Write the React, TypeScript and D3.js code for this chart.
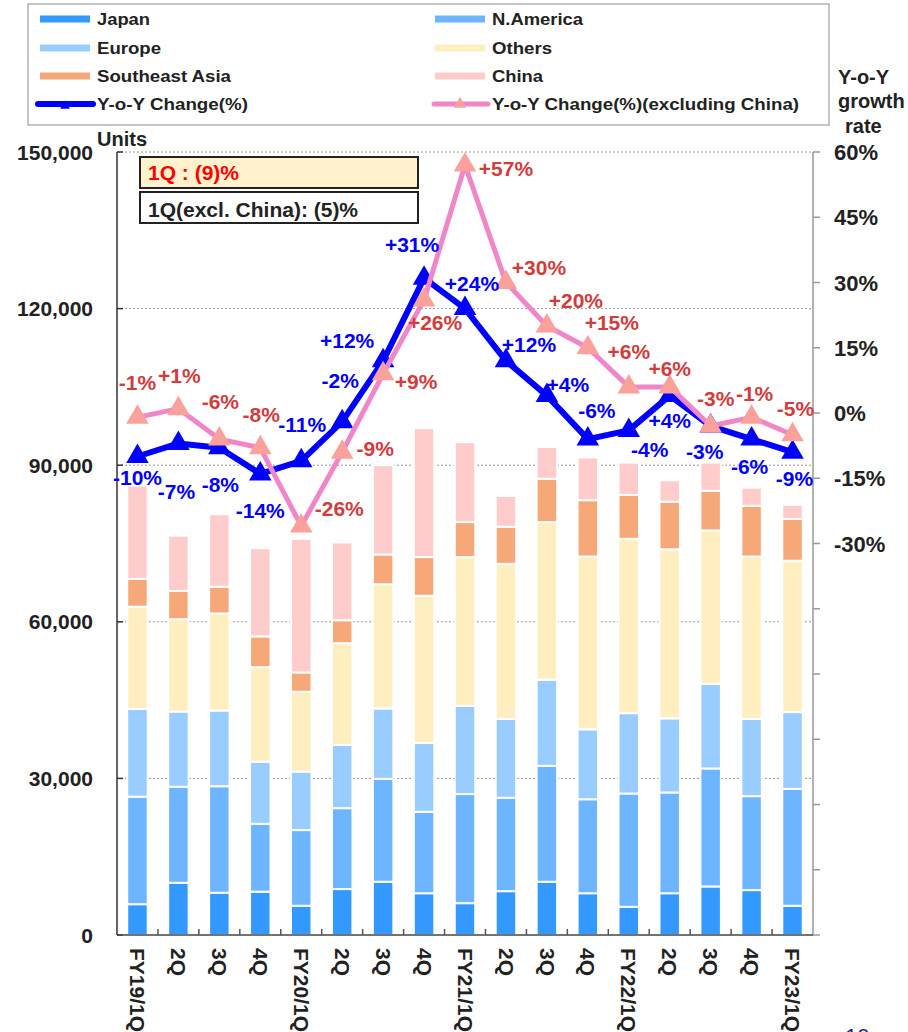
import React, { useEffect, useRef } from "react";
import * as d3 from "d3";

// quarters on the x axis
const periods = ["FY19/1Q", "2Q", "3Q", "4Q", "FY20/1Q", "2Q", "3Q", "4Q", "FY21/1Q", "2Q", "3Q", "4Q", "FY22/1Q", "2Q", "3Q", "4Q", "FY23/1Q"];

// units sold per region (stacked, bottom to top)
const japan = [5900, 10000, 8100, 8300, 5600, 8800, 10200, 8000, 6100, 8400, 10200, 8000, 5400, 8000, 9300, 8600, 5600];
const nAmerica = [20600, 18400, 20400, 13000, 14500, 15500, 19700, 15600, 20900, 17900, 22200, 18000, 21700, 19300, 22600, 18000, 22400];
const europe = [16800, 14400, 14500, 11900, 11200, 12100, 13500, 13200, 16900, 15100, 16500, 13400, 15400, 14200, 16200, 14800, 14700];
const others = [19600, 17700, 18600, 18100, 15300, 19500, 23800, 28200, 28500, 29700, 30200, 33100, 33400, 32400, 29400, 31100, 29000];
const seAsia = [5300, 5400, 5100, 5900, 3700, 4400, 5700, 7400, 6700, 7100, 8300, 10800, 8400, 9100, 7600, 9700, 8000];
const china = [17900, 10600, 13900, 16900, 25600, 14900, 17100, 24700, 15300, 5900, 6100, 8200, 6200, 4100, 5400, 3500, 2700];

// y-o-y growth (%)
const yoyChange = [-10, -7, -8, -14, -11, -2, 12, 31, 24, 12, 4, -6, -4, 4, -3, -6, -9];
const yoyExChina = [-1, 1, -6, -8, -26, -9, 9, 26, 57, 30, 20, 15, 6, 6, -3, -1, -5];

// axis ticks
const unitTicks = [0, 30000, 60000, 90000, 120000, 150000];
const rateTicks = [-120, -105, -90, -75, -60, -45, -30, -15, 0, 15, 30, 45, 60];
const rateTickLabels = [-30, -15, 0, 15, 30, 45, 60];

// where each % label sits relative to its point [dx, dy]
const yoyLabelPos = [[0, 21], [-2, 48], [1, 37], [0, 37], [1, -36], [-2, -41], [-36, -20], [-12, -34], [7, -25], [23, -16], [21, -11], [9, -29], [21, 19], [0, 25], [-6, 25], [-2, 27], [2, 26]];
const exChinaLabelPos = [[0, -35], [1, -33], [1, -38], [1, -33], [38, -18], [33, -4], [33, 8], [11, 23], [41, 3], [33, -15], [29, -26], [24, -25], [0, -35], [0, -18], [5, -28], [3, -24], [3, -26]];

const FONT = "'Liberation Sans', Arial, Helvetica, sans-serif";

export default function App() {
  const ref = useRef<SVGSVGElement>(null);

  useEffect(() => {
    const svg = d3.select(ref.current);
    svg.selectAll("*").remove();

    const left = 117, right = 813, top = 152, bottom = 935;

    const x = d3.scaleBand<number>().domain(d3.range(periods.length)).range([left, right]).paddingInner(0.5).paddingOuter(0.25);
    const y = d3.scaleLinear().domain([0, 150000]).range([bottom, top]);
    const yr = d3.scaleLinear().domain([-120, 60]).range([bottom, top]);
    const cx = (i: number) => (x(i) as number) + x.bandwidth() / 2;

    const g = svg.append("g").attr("font-family", FONT).attr("font-weight", "bold");

    // dotted gridlines
    g.append("g").selectAll("line").data(unitTicks.filter(d => d > 0)).join("line")
      .attr("x1", left).attr("x2", right)
      .attr("y1", d => y(d)).attr("y2", d => y(d))
      .attr("stroke", "#999").attr("stroke-dasharray", "2,2");

    // stacked bars
    const keys = ["japan", "nAmerica", "europe", "others", "seAsia", "china"];
    const colors: Record<string, string> = {
      japan: "#3399FF", nAmerica: "#6DB6FF", europe: "#99CCFF",
      others: "#FFEEBF", seAsia: "#F6A878", china: "#FFCCCC",
    };
    const rows = periods.map((p, i) => ({
      i, japan: japan[i], nAmerica: nAmerica[i], europe: europe[i],
      others: others[i], seAsia: seAsia[i], china: china[i],
    }));
    const series = d3.stack<any>().keys(keys)(rows);
    g.append("g").selectAll("g").data(series).join("g")
      .attr("fill", d => colors[d.key])
      .selectAll("rect").data(d => d).join("rect")
      .attr("x", (d: any) => x(d.data.i) as number)
      .attr("width", x.bandwidth())
      .attr("y", d => y(d[1]))
      .attr("height", d => y(d[0]) - y(d[1]))
      .attr("stroke", "#fff").attr("stroke-width", 2);

    // left axis
    g.append("line").attr("x1", left).attr("x2", left).attr("y1", top).attr("y2", bottom)
      .attr("stroke", "#333").attr("stroke-width", 1.5);
    g.append("g").selectAll("line").data(unitTicks).join("line")
      .attr("x1", left).attr("x2", left + 6).attr("y1", d => y(d)).attr("y2", d => y(d))
      .attr("stroke", "#333").attr("stroke-width", 1.5);
    g.append("g").selectAll("text").data(unitTicks).join("text")
      .attr("x", 93).attr("y", d => y(d) + 7.5)
      .attr("text-anchor", "end").attr("font-size", 21).attr("fill", "#222")
      .text(d => d3.format(",")(d));

    // right axis
    g.append("line").attr("x1", right).attr("x2", right).attr("y1", top).attr("y2", bottom)
      .attr("stroke", "#999").attr("stroke-width", 1.5);
    g.append("g").selectAll("line").data(rateTicks).join("line")
      .attr("x1", right).attr("x2", right + 7).attr("y1", d => yr(d)).attr("y2", d => yr(d))
      .attr("stroke", "#999").attr("stroke-width", 1.5);
    g.append("g").selectAll("text").data(rateTickLabels).join("text")
      .attr("x", 834).attr("y", d => yr(d) + 8)
      .attr("font-size", 22).attr("fill", "#222")
      .text(d => d + "%");

    // bottom axis
    g.append("line").attr("x1", left).attr("x2", right).attr("y1", bottom).attr("y2", bottom)
      .attr("stroke", "#444").attr("stroke-width", 1.5);
    g.append("g").selectAll("line").data(d3.range(1, periods.length)).join("line")
      .attr("x1", i => left + x.step() * (i + 0.0) + (x(0) as number) - left - x.step() * 0.25)
      .attr("x2", i => left + x.step() * (i + 0.0) + (x(0) as number) - left - x.step() * 0.25)
      .attr("y1", bottom - 6).attr("y2", bottom)
      .attr("stroke", "#555").attr("stroke-width", 1.5);
    g.append("g").selectAll("text").data(periods).join("text")
      .attr("transform", (d, i) => `translate(${cx(i)},948) rotate(90)`)
      .attr("dy", "0.35em").attr("font-size", 21).attr("fill", "#222")
      .text(d => d);

    // lines
    const line = d3.line<number>().x((d, i) => cx(i)).y(d => yr(d));
    const tri = d3.symbol().type(d3.symbolTriangle).size(220);
    const pct = (v: number) => (v > 0 ? "+" : "") + v + "%";

    g.append("path").datum(yoyChange).attr("fill", "none").attr("stroke", "#0000FF")
      .attr("stroke-width", 6).attr("stroke-linejoin", "round").attr("d", line);
    g.append("g").selectAll("path").data(yoyChange).join("path")
      .attr("transform", (d, i) => `translate(${cx(i)},${yr(d)})`)
      .attr("d", tri()).attr("fill", "#0000FF");

    g.append("path").datum(yoyExChina).attr("fill", "none").attr("stroke", "#F086C8")
      .attr("stroke-width", 5).attr("stroke-linejoin", "round").attr("d", line);
    g.append("g").selectAll("path").data(yoyExChina).join("path")
      .attr("transform", (d, i) => `translate(${cx(i)},${yr(d)})`)
      .attr("d", tri()).attr("fill", "#FAA19C");

    // % labels
    g.append("g").selectAll("text").data(yoyChange).join("text")
      .attr("x", (d, i) => cx(i) + yoyLabelPos[i][0])
      .attr("y", (d, i) => yr(d) + yoyLabelPos[i][1] + 7.5)
      .attr("text-anchor", "middle").attr("font-size", 21).attr("fill", "#0000FF")
      .text(pct);
    g.append("g").selectAll("text").data(yoyExChina).join("text")
      .attr("x", (d, i) => cx(i) + exChinaLabelPos[i][0])
      .attr("y", (d, i) => yr(d) + exChinaLabelPos[i][1] + 7.5)
      .attr("text-anchor", "middle").attr("font-size", 21).attr("fill", "#D23C3C")
      .text(pct);

    // summary boxes
    g.append("rect").attr("x", 140).attr("y", 157).attr("width", 278).attr("height", 31)
      .attr("fill", "#FFF2CC").attr("stroke", "#222").attr("stroke-width", 2);
    g.append("text").attr("x", 148).attr("y", 180).attr("font-size", 21).attr("fill", "#FF0000")
      .text("1Q : (9)%");
    g.append("rect").attr("x", 140).attr("y", 192).attr("width", 278).attr("height", 31)
      .attr("fill", "#fff").attr("stroke", "#222").attr("stroke-width", 2);
    g.append("text").attr("x", 148).attr("y", 217).attr("font-size", 21).attr("fill", "#222")
      .text("1Q(excl. China): (5)%");

    // axis titles
    g.append("text").attr("x", 97).attr("y", 146).attr("font-size", 20).attr("fill", "#222").text("Units");
    const rt = g.append("text").attr("font-size", 20).attr("fill", "#222");
    rt.append("tspan").attr("x", 838).attr("y", 84).text("Y-o-Y");
    rt.append("tspan").attr("x", 838).attr("y", 108).text("growth");
    rt.append("tspan").attr("x", 845).attr("y", 133).text("rate");

    // legend
    g.append("rect").attr("x", 28).attr("y", 4).attr("width", 801).attr("height", 121)
      .attr("fill", "#fff").attr("stroke", "#8c8c8c").attr("stroke-width", 1);
    const legendItems = [
      { label: "Japan", key: "japan", col: 0, row: 0, w: 53 },
      { label: "N.America", key: "nAmerica", col: 1, row: 0, w: 91 },
      { label: "Europe", key: "europe", col: 0, row: 1, w: 64 },
      { label: "Others", key: "others", col: 1, row: 1, w: 60 },
      { label: "Southeast Asia", key: "seAsia", col: 0, row: 2, w: 134 },
      { label: "China", key: "china", col: 1, row: 2, w: 51 },
    ];
    const rowY = [19, 48, 76, 104];
    const colX = [40, 435];
    legendItems.forEach(it => {
      const lx = colX[it.col], ly = rowY[it.row];
      g.append("rect").attr("x", lx).attr("y", ly - 3.5).attr("width", 50).attr("height", 7)
        .attr("fill", colors[it.key]);
      g.append("text").attr("x", lx + 57).attr("y", ly + 6).attr("font-size", 16).attr("fill", "#222")
        .attr("textLength", it.w).attr("lengthAdjust", "spacingAndGlyphs").text(it.label);
    });
    // legend: lines
    g.append("line").attr("x1", 38).attr("x2", 93).attr("y1", rowY[3]).attr("y2", rowY[3])
      .attr("stroke", "#0000FF").attr("stroke-width", 6).attr("stroke-linecap", "round");
    g.append("path").attr("transform", `translate(65,${rowY[3] + 2})`)
      .attr("d", d3.symbol().type(d3.symbolTriangle).size(40)()).attr("fill", "#0000FF");
    g.append("text").attr("x", 97).attr("y", rowY[3] + 6).attr("font-size", 16).attr("fill", "#222")
      .attr("textLength", 151).attr("lengthAdjust", "spacingAndGlyphs").text("Y-o-Y Change(%)");
    g.append("line").attr("x1", 434).attr("x2", 488).attr("y1", rowY[3]).attr("y2", rowY[3])
      .attr("stroke", "#F086C8").attr("stroke-width", 5).attr("stroke-linecap", "round");
    g.append("path").attr("transform", `translate(460,${rowY[3]})`)
      .attr("d", d3.symbol().type(d3.symbolTriangle).size(70)()).attr("fill", "#FAA19C");
    g.append("text").attr("x", 492).attr("y", rowY[3] + 6).attr("font-size", 16).attr("fill", "#222")
      .attr("textLength", 307).attr("lengthAdjust", "spacingAndGlyphs").text("Y-o-Y Change(%)(excluding China)");

    // page number peeking at bottom
    g.append("text").attr("x", 845).attr("y", 1044).attr("font-size", 22).attr("font-weight", "normal")
      .attr("fill", "#22228A").text("10");
  }, []);

  return (
    <svg ref={ref} width={908} height={1032}
      style={{ position: "absolute", left: 0, top: 0, display: "block", background: "#fff" }} />
  );
}
